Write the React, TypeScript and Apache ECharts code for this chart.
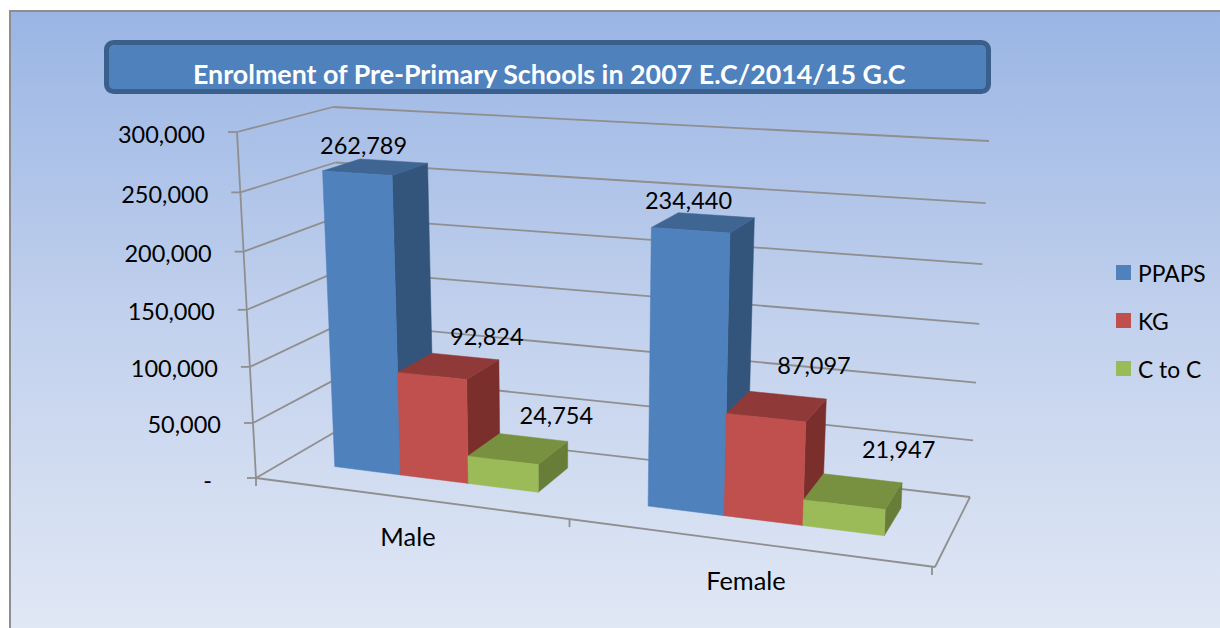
import React, { useEffect, useRef } from "react";
import * as echarts from "echarts";

// ---- data ----
const categories = ["Male", "Female"];
const ppaps = [262789, 234440];
const kg = [92824, 87097];
const cToC = [24754, 21947];
const yTicks = [0, 50000, 100000, 150000, 200000, 250000, 300000];
const yTickLabels = ["-", "50,000", "100,000", "150,000", "200,000", "250,000", "300,000"];
const titleText = "Enrolment of Pre-Primary Schools in 2007 E.C/2014/15 G.C";

// ---- layout / style ----
const FONT = "Lato";
const GRID = { left: 100, top: 100, width: 800, height: 400 };
type P = [number, number];
// box corners in the picture: floor and the 300,000 plane (FL, FR, BR, BL)
const FLOOR: P[] = [[256, 478], [935, 567], [970, 497], [347, 425]];
const ROOF: P[] = [[237, 132], [948, 173], [989, 141], [333, 107]];
const HEIGHT_PERSPECTIVE = 1.057;

function homography(q: P[]) {
  // unit square (u,v): (0,0),(1,0),(1,1),(0,1) -> q0,q1,q2,q3
  const [[x0, y0], [x1, y1], [x2, y2], [x3, y3]] = q;
  const dx1 = x1 - x2, dx2 = x3 - x2, sx = x0 - x1 + x2 - x3;
  const dy1 = y1 - y2, dy2 = y3 - y2, sy = y0 - y1 + y2 - y3;
  const det = dx1 * dy2 - dx2 * dy1;
  const g = (sx * dy2 - dx2 * sy) / det;
  const h = (dx1 * sy - sx * dy1) / det;
  const a = x1 - x0 + g * x1, b = x3 - x0 + h * x3, c = x0;
  const d = y1 - y0 + g * y1, e = y3 - y0 + h * y3, f = y0;
  return (u: number, v: number): P => {
    const w = g * u + h * v + 1;
    return [(a * u + b * v + c) / w, (d * u + e * v + f) / w];
  };
}
const floorAt = homography(FLOOR);
const roofAt = homography(ROOF);
function project(u: number, v: number, t: number): P {
  const a = floorAt(u, v), b = roofAt(u, v);
  const k = t / (HEIGHT_PERSPECTIVE + (1 - HEIGHT_PERSPECTIVE) * t);
  return [a[0] + (b[0] - a[0]) * k, a[1] + (b[1] - a[1]) * k];
}

const V_FRONT = 0.31;
const V_BACK = 0.72;
const BAR_SHARE = 0.222; // one bar's share of a category's width
const U_SHIFT = 0.001;

const AXIS_STROKE = "#8f8f8f";
const LABEL_FONT = 23.5;
const CATEGORY_FONT = 25.4;

const seriesDefs = [
  { name: "PPAPS", values: ppaps, index: 0, front: "#4f81bd", top: "#3f6592", side: "#33547b", nudge: [[-12, -22], [-15, -23]] as P[] },
  { name: "KG", values: kg, index: 1, front: "#c0504d", top: "#8f3a38", side: "#7b2f2d", nudge: [[38, -30], [37, -41]] as P[] },
  { name: "C to C", values: cToC, index: 2, front: "#9bbb59", top: "#789140", side: "#677d38", nudge: [[38, -34], [45, -42]] as P[] },
];

function toNorm(api: any, params: any, cat: number, value: number) {
  const c = api.coord([cat, value]);
  const cs = params.coordSys;
  return {
    u: (c[0] - cs.x) / cs.width,
    t: (cs.y + cs.height - c[1]) / cs.height,
    band: api.size([1, 0])[0] / cs.width,
  };
}

function line(a: P, b: P) {
  return {
    type: "line",
    shape: { x1: a[0], y1: a[1], x2: b[0], y2: b[1] },
    style: { stroke: AXIS_STROKE, lineWidth: 1.8, fill: null },
  };
}

function txt(text: string, x: number, y: number, align: string, size = LABEL_FONT) {
  return {
    type: "text",
    style: {
      text, x, y, textAlign: align, textVerticalAlign: "middle",
      fontFamily: FONT, fontSize: size, fill: "#000000",
    },
  };
}

function renderBar(def: (typeof seriesDefs)[number]) {
  return (params: any, api: any) => {
    const cat = api.value(0) as number;
    const val = api.value(1) as number;
    const { u, t, band } = toNorm(api, params, cat, val);
    const w = band * BAR_SHARE;
    const u0 = u + U_SHIFT + (def.index - 1.5) * w;
    const u1 = u0 + w;
    const fbl = project(u0, V_FRONT, 0), fbr = project(u1, V_FRONT, 0);
    const bbr = project(u1, V_BACK, 0);
    const ftl = project(u0, V_FRONT, t), ftr = project(u1, V_FRONT, t);
    const btl = project(u0, V_BACK, t), btr = project(u1, V_BACK, t);
    const face = (pts: P[], fill: string) => ({
      type: "polygon", shape: { points: pts },
      style: { fill, stroke: fill, lineWidth: 0.5 },
    });
    const cx = (ftl[0] + ftr[0] + btl[0] + btr[0]) / 4;
    const cy = (ftl[1] + ftr[1] + btl[1] + btr[1]) / 4;
    const n = def.nudge[cat];
    return {
      type: "group",
      children: [
        face([fbr, bbr, btr, ftr], def.side),
        face([ftl, ftr, btr, btl], def.top),
        face([fbl, fbr, ftr, ftl], def.front),
        txt(Number(val).toLocaleString("en-US"), cx + n[0], cy + n[1], "center"),
      ],
    };
  };
}

function renderYTick(params: any, api: any) {
  const idx = params.dataIndex as number;
  const { t } = toNorm(api, params, 0, api.value(1) as number);
  const fl = project(0, 0, t), bl = project(0, 1, t), br = project(1, 1, t);
  const tickEnd: P = [fl[0] - 9, fl[1]];
  const label = yTickLabels[idx];
  const children: any[] = [line(fl, bl), line(bl, br), line(tickEnd, fl)];
  const labelX = tickEnd[0] - 23 - (idx === 0 ? 12 : 0);
  children.push(txt(label, labelX, fl[1] + 1.5, "right"));
  return { type: "group", children };
}

function renderFrame() {
  const a = project(0, 0, 1), b = project(0, 0, 0), c = project(1, 0, 0), d = project(1, 1, 0);
  const mid = project(0.5, 0, 0);
  return {
    type: "group",
    children: [
      line(a, b),
      line(b, c),
      line(c, d),
      line(b, [b[0], b[1] + 8]),
      line(mid, [mid[0], mid[1] + 8]),
      line([c[0] - 3, c[1]], [c[0] - 3, c[1] + 8]),
    ],
  };
}

function renderCategory(params: any, api: any) {
  const { u } = toNorm(api, params, api.value(0) as number, 0);
  const p = project(u, 0, 0);
  return {
    type: "group",
    children: [txt(categories[params.dataIndex], p[0] + 1, p[1] + 38, "center", CATEGORY_FONT)],
  };
}

export default function App() {
  const ref = useRef<HTMLDivElement>(null);
  useEffect(() => {
    const chart = echarts.init(ref.current!, undefined, { renderer: "svg" });
    chart.setOption({
      animation: false,
      backgroundColor: "#ffffff",
      color: seriesDefs.map((d) => d.front),
      title: {
        text: titleText,
        left: 193,
        top: 60,
        padding: 0,
        textStyle: { fontFamily: FONT, fontSize: 26.8, fontWeight: "bold", color: "#ffffff" },
      },
      legend: {
        orient: "vertical",
        left: 1116,
        top: 261,
        padding: 0,
        icon: "rect",
        itemWidth: 15,
        itemHeight: 15,
        itemGap: 25,
        data: seriesDefs.map((d) => d.name),
        textStyle: { fontFamily: FONT, fontSize: 22.8, color: "#000000", padding: [0, 0, 0, 2] },
      },
      grid: { ...GRID },
      xAxis: { type: "category", data: categories, show: false },
      yAxis: { type: "value", min: 0, max: 300000, interval: 50000, show: false },
      graphic: [
        {
          type: "rect",
          z: -10,
          shape: { x: 10, y: 11, width: 1240, height: 625 },
          style: {
            stroke: "#8e8e8e",
            lineWidth: 2,
            fill: new echarts.graphic.LinearGradient(0, 0, 0, 1, [
              { offset: 0, color: "#9ab5e4" },
              { offset: 0.5, color: "#c2d1ed" },
              { offset: 1, color: "#e1e8f5" },
            ]),
          },
        },
        {
          type: "rect",
          z: 5,
          shape: { x: 106.5, y: 42.5, width: 882, height: 49, r: 7 },
          style: { fill: "#4f81bd", stroke: "#3a5f8b", lineWidth: 5 },
        },
      ],
      series: [
        {
          type: "custom", name: "walls", silent: true, z: 2,
          data: yTicks.map((v) => [0, v]),
          renderItem: renderYTick,
        },
        {
          type: "custom", name: "floor", silent: true, z: 2,
          data: [[0, 0]],
          renderItem: renderFrame,
        },
        {
          type: "custom", name: "categories", silent: true, z: 2,
          data: categories.map((_, i) => [i, 0]),
          renderItem: renderCategory,
        },
        ...seriesDefs.map((d) => ({
          type: "custom",
          name: d.name,
          z: 3,
          data: d.values.map((v, i) => [i, v]),
          renderItem: renderBar(d),
        })),
      ],
    });
    return () => chart.dispose();
  }, []);
  return <div ref={ref} style={{ position: "fixed", left: 0, top: 0, width: 1220, height: 628 }} />;
}
